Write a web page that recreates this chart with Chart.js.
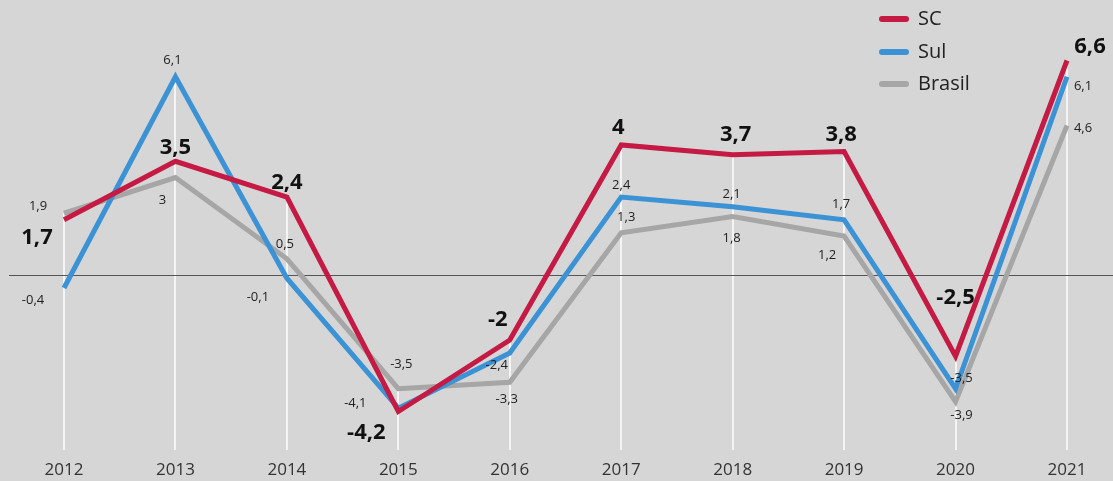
<!DOCTYPE html>
<html><head><meta charset="utf-8">
<script src="https://cdn.jsdelivr.net/npm/chart.js@4/dist/chart.umd.min.js"></script>
<style>html,body{margin:0;padding:0;background:#d6d6d6;}canvas{display:block;}</style>
</head><body>
<canvas id="c" width="1113" height="481"></canvas>
<script>
const years = ['2012','2013','2014','2015','2016','2017','2018','2019','2020','2021'];
const scValues = [1.7, 3.5, 2.4, -4.2, -2, 4, 3.7, 3.8, -2.5, 6.6];
const sulValues = [-0.4, 6.1, -0.1, -4.1, -2.4, 2.4, 2.1, 1.7, -3.5, 6.1];
const brasilValues = [1.9, 3, 0.5, -3.5, -3.3, 1.3, 1.8, 1.2, -3.9, 4.6];
const seriesNames = ['SC', 'Sul', 'Brasil'];

// label offsets (px) relative to each point
const scOffsets = [[-27,18],[0,-14],[0,-14],[-32,21],[-12,-20],[-3,-17],[3,-20],[-3,-17],[0,-59],[23,-14]];
const sulOffsets = [[-31,12],[-3,-16],[-29,19],[-43,-5],[-13,12],[0,-12],[-1,-12],[-3,-15],[6,-10],[16,10]];
const brasilOffsets = [[-26,-7],[-13,23],[-2,-14],[3,-24],[-3,17],[5,-15],[-1,22],[-17,19],[6,14],[16,3]];

const colors = ['#c41a44', '#3b92d5', '#a6a6a6'];
const FONT = '"Open Sans", "DejaVu Sans", sans-serif';
const fmt = v => String(v).replace('.', ',');

const bgPlugin = {
  id: 'bg',
  beforeDatasetsDraw(chart) {
    const {ctx, chartArea, scales} = chart;
    const x = scales.x, y = scales.y;
    ctx.save();
    // vertical white guide lines from the top point down
    ctx.strokeStyle = '#f4f4f4';
    ctx.lineWidth = 2;
    years.forEach((yr, i) => {
      const top = Math.max(scValues[i], sulValues[i], brasilValues[i]);
      const px = Math.round(x.getPixelForValue(i));
      ctx.beginPath();
      ctx.moveTo(px, y.getPixelForValue(top));
      ctx.lineTo(px, chartArea.bottom);
      ctx.stroke();
    });
    // zero line
    const y0 = Math.round(y.getPixelForValue(0)) + 0.5;
    ctx.strokeStyle = '#555555';
    ctx.lineWidth = 1;
    ctx.beginPath();
    ctx.moveTo(9, y0);
    ctx.lineTo(chart.width, y0);
    ctx.stroke();
    ctx.restore();
  }
};

const labelPlugin = {
  id: 'labels',
  afterDatasetsDraw(chart) {
    const {ctx} = chart;
    const offs = [scOffsets, sulOffsets, brasilOffsets];
    ctx.save();
    ctx.textAlign = 'center';
    ctx.textBaseline = 'middle';
    [2,1,0].forEach(di => {
      const meta = chart.getDatasetMeta(di);
      const data = chart.data.datasets[di].data;
      if (di === 0) { ctx.font = 'bold 22px ' + FONT; ctx.fillStyle = '#111'; }
      else { ctx.font = '13px ' + FONT; ctx.fillStyle = '#222'; }
      meta.data.forEach((pt, i) => {
        ctx.fillText(fmt(data[i]), pt.x + offs[di][i][0], pt.y + offs[di][i][1]);
      });
    });
    // legend
    const ly = [19, 52, 84];
    chart.data.datasets.forEach((ds, i) => {
      ctx.strokeStyle = ds.borderColor;
      ctx.lineWidth = 6;
      ctx.lineCap = 'round';
      ctx.beginPath();
      ctx.moveTo(882, ly[i]);
      ctx.lineTo(906, ly[i]);
      ctx.stroke();
      ctx.font = '20px ' + FONT;
      ctx.fillStyle = '#222';
      ctx.textAlign = 'left';
      ctx.fillText(ds.label, 918, ly[i]);
    });
    ctx.restore();
  }
};

const mk = (i, vals) => ({
  label: seriesNames[i], data: vals, borderColor: colors[i], backgroundColor: colors[i],
  borderWidth: 5, pointRadius: 0, tension: 0, borderJoinStyle: 'miter', borderCapStyle: 'butt', clip: false
});

new Chart(document.getElementById('c'), {
  type: 'line',
  data: { labels: years, datasets: [mk(0, scValues), mk(1, sulValues), mk(2, brasilValues)] },
  options: {
    responsive: false, animation: false, devicePixelRatio: 1,
    layout: { padding: { left: 64, right: 46, top: 0, bottom: 0 } },
    plugins: { legend: { display: false }, tooltip: { enabled: false } },
    scales: {
      x: {
        offset: false,
        grid: { display: false, drawTicks: false },
        border: { display: false },
        ticks: { color: '#333', font: { size: 17, family: FONT }, padding: 10, maxRotation: 0 },
        afterFit: s => { s.height = 31; }
      },
      y: { display: false, min: -5.3846, max: 8.4615 }
    }
  },
  plugins: [bgPlugin, labelPlugin]
});
</script>
</body></html>
